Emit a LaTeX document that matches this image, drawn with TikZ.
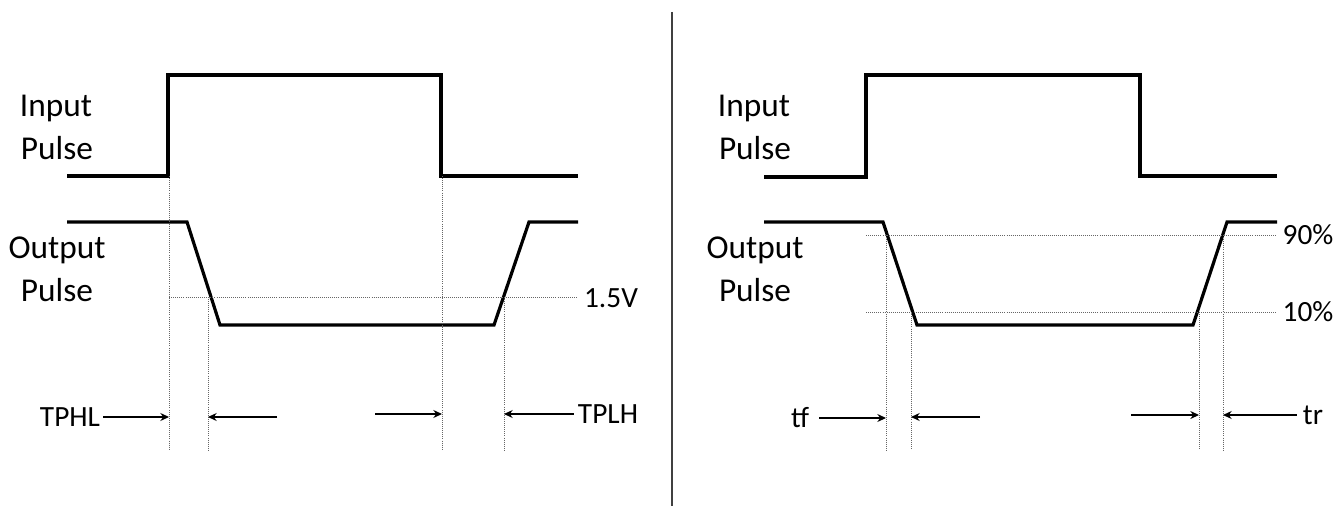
\documentclass[tikz,border=0pt]{standalone}
\usepackage{fontspec}
\setmainfont{Carlito}
\usepackage{tikz}
\usetikzlibrary{arrows.meta}
\tikzset{
    lbl/.style={inner sep=0pt,font=\fontsize{25}{30}\selectfont},
    small lbl/.style={inner sep=0pt,font=\fontsize{22}{26}\selectfont},
    wave/.style={line width=2.4pt,line join=miter},
    guide/.style={line width=0.55pt,densely dotted,black!60},
    timing/.style={line width=0.9pt,-{Stealth[length=6.5pt,width=6pt]}},
}

\begin{document}
\begin{tikzpicture}[x=0.75pt,y=-0.75pt]
\useasboundingbox (0,0) rectangle (1337,506);

% divider
\coordinate (divtop) at (672,12);
\coordinate (divbot) at (672,506);
\draw[line width=0.8pt,black!75] (divtop) -- (divbot);

% left side
\node[lbl] (lin) at (56,108) {Input};
\node[lbl] (lip) at (57,148) {Pulse};
\node[lbl] (lou) at (57,250) {Output};
\node[lbl] (lop) at (57,290) {Pulse};
\draw[wave] (67,176) -- (168,176) -- (168,75) -- (441,75) -- (441,176) -- (578,176);
\draw[wave] (67,222) -- (187,222) -- (220,325) -- (494,325) -- (529,222) -- (578,222);

\node[small lbl] (lvolt) at (611,298) {1.5V};
\coordinate (lh1) at (169,297);
\coordinate (lh2) at (578,297);
\draw[guide] (lh1) -- (lh2);

\coordinate (lv1t) at (169,176);
\coordinate (lv1b) at (169,450);
\coordinate (lv2t) at (208,297);
\coordinate (lv2b) at (208,450);
\coordinate (lv3t) at (442,176);
\coordinate (lv3b) at (442,450);
\coordinate (lv4t) at (504,297);
\coordinate (lv4b) at (504,450);
\draw[guide] (lv1t) -- (lv1b);
\draw[guide] (lv2t) -- (lv2b);
\draw[guide] (lv3t) -- (lv3b);
\draw[guide] (lv4t) -- (lv4b);

\node[small lbl] (tphl) at (70,417) {TPHL};
\node[small lbl] (tplh) at (608,414) {TPLH};
\coordinate (la1) at (169,417);
\coordinate (la2s) at (277,417);
\coordinate (la2) at (208,417);
\coordinate (la3s) at (375,414);
\coordinate (la3) at (442,414);
\coordinate (la4) at (504,414);
\draw[timing] (tphl.east) ++(3,0) -- (la1);
\draw[timing] (la2s) -- (la2);
\draw[timing] (la3s) -- (la3);
\draw[timing] (tplh.west) ++(-4,0) -- (la4);

% right side
\node[lbl] (rin) at (754,108) {Input};
\node[lbl] (rip) at (755,148) {Pulse};
\node[lbl] (rou) at (755,250) {Output};
\node[lbl] (rop) at (755,290) {Pulse};
\draw[wave] (764,177) -- (866,177) -- (866,75) -- (1140,75) -- (1140,176) -- (1277,176);
\draw[wave] (764,222) -- (883,222) -- (917,325) -- (1193,325) -- (1227,222) -- (1277,222);

\node[small lbl] (r90) at (1308,235) {90\%};
\node[small lbl] (r10) at (1308,312) {10\%};
\coordinate (rh1a) at (866,235);
\coordinate (rh1b) at (1277,235);
\coordinate (rh2a) at (866,312);
\coordinate (rh2b) at (1277,312);
\draw[guide] (rh1a) -- (rh1b);
\draw[guide] (rh2a) -- (rh2b);

\coordinate (rv1t) at (886,235);
\coordinate (rv1b) at (886,450);
\coordinate (rv2t) at (911,312);
\coordinate (rv2b) at (911,450);
\coordinate (rv3t) at (1199,312);
\coordinate (rv3b) at (1199,450);
\coordinate (rv4t) at (1223,235);
\coordinate (rv4b) at (1223,450);
\draw[guide] (rv1t) -- (rv1b);
\draw[guide] (rv2t) -- (rv2b);
\draw[guide] (rv3t) -- (rv3b);
\draw[guide] (rv4t) -- (rv4b);

\node[small lbl] (tf) at (800,418) {tf};
\node[small lbl] (tr) at (1313,415) {tr};
\coordinate (ra1) at (886,418);
\coordinate (ra2s) at (980,417);
\coordinate (ra2) at (911,417);
\coordinate (ra3s) at (1131,415);
\coordinate (ra3) at (1199,415);
\coordinate (ra4) at (1223,415);
\draw[timing] (tf.east) ++(10,0) -- (ra1);
\draw[timing] (ra2s) -- (ra2);
\draw[timing] (ra3s) -- (ra3);
\draw[timing] (tr.west) ++(-6,0) -- (ra4);
\end{tikzpicture}
\end{document}
